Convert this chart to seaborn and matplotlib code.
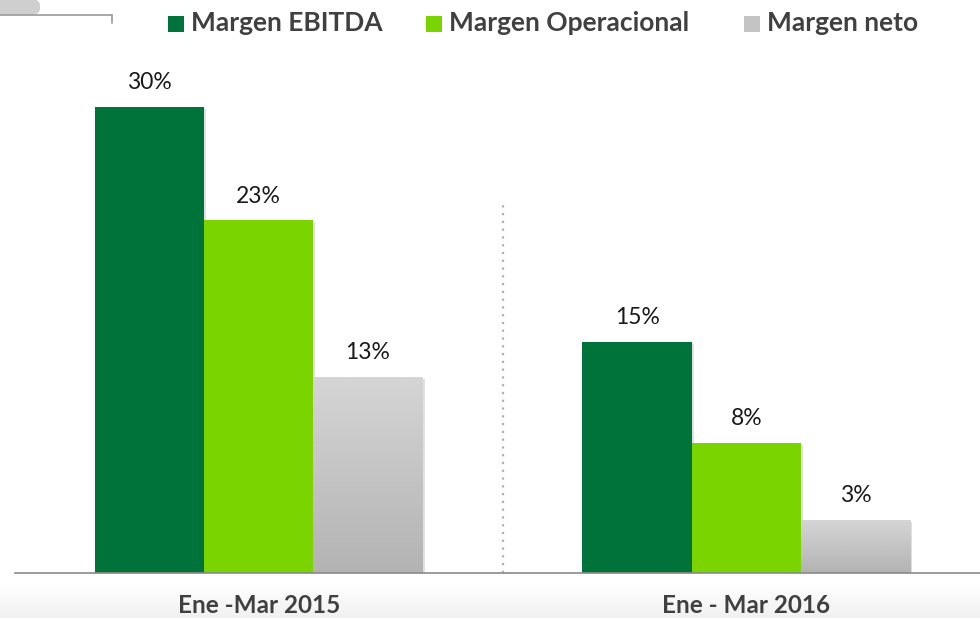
import numpy as np
import pandas as pd
import matplotlib
matplotlib.use("Agg")
import matplotlib.pyplot as plt
import seaborn as sns
from matplotlib.patches import Rectangle, FancyBboxPatch
from matplotlib.lines import Line2D
import matplotlib.patheffects as pe

periods = ["Ene -Mar 2015", "Ene - Mar 2016"]
series = ["Margen EBITDA", "Margen Operacional", "Margen neto"]
ebitda = [30.0, 14.9]
operacional = [22.7, 8.4]
neto = [12.6, 3.4]

colors = ["#00733A", "#7AD400", "#C4C4C4"]

rows = []
for name, vals in zip(series, [ebitda, operacional, neto]):
    for p, v in zip(periods, vals):
        rows.append({"period": p, "serie": name, "value": v})
df = pd.DataFrame(rows)

sns.set_theme(style="white")
plt.rcParams["font.family"] = ["Lato", "DejaVu Sans"]

W, H = 980, 618
fig = plt.figure(figsize=(W / 100, H / 100), dpi=100)
fig.patch.set_facecolor("white")

# subtle bottom background band
bg = fig.add_axes([0, 0, 1, 35 / H], zorder=-5)
grad = np.linspace(0, 1, 50).reshape(-1, 1)
bg.imshow(grad, aspect="auto", cmap=matplotlib.colors.LinearSegmentedColormap.from_list("g", ["#f1f1f1", "#ffffff"]),
          extent=[0, 1, 0, 1], origin="lower")
bg.axis("off")

base_px = 573
px_per = 15.53
ymax = 35
top_px = base_px - ymax * px_per
ax = fig.add_axes([15 / W, (H - base_px) / H, 975 / W, (base_px - top_px) / H])
ax.set_facecolor("none")

sns.barplot(data=df, x="period", y="value", hue="serie", order=periods, hue_order=series,
            palette=colors, width=0.672, saturation=1, errorbar=None, legend=False, ax=ax,
            linewidth=0)

ax.set_xlim(-0.5, 1.5)
ax.set_ylim(0, ymax)

shadow = [pe.SimplePatchShadow(offset=(1.5, -1.5), shadow_rgbFace="#000000", alpha=0.12), pe.Normal()]
bars = list(ax.patches)
gmap = matplotlib.colors.LinearSegmentedColormap.from_list("gr", ["#B3B3B3", "#D5D5D5"])
for b in bars:
    b.set_path_effects(shadow)
    b.set_zorder(2)
    if matplotlib.colors.to_hex(b.get_facecolor()).lower() == "#c4c4c4":
        x0, w, h = b.get_x(), b.get_width(), b.get_height()
        im = ax.imshow(np.linspace(0, 1, 100).reshape(-1, 1), cmap=gmap, aspect="auto",
                       extent=[x0, x0 + w, 0, h], origin="lower", zorder=2.5)
        im.set_clip_path(b)
ax.set_xlim(-0.5, 1.5)
ax.set_ylim(0, ymax)

for b in bars:
    h = b.get_height()
    ax.annotate(f"{round(h)}%", (b.get_x() + b.get_width() / 2, h), xytext=(0, 10),
                textcoords="offset points", ha="center", va="bottom",
                fontsize=16.5, color="#1a1a1a", zorder=5)

# divider
ax.axvline(0.5, ymin=0, ymax=(base_px - 205) / (base_px - top_px), color="#b0b0b0",
           linestyle=(0, (1, 2.5)), linewidth=1.6, zorder=1)

for s in ["left", "right", "top"]:
    ax.spines[s].set_visible(False)
ax.spines["bottom"].set_color("#8a8a8a")
ax.spines["bottom"].set_linewidth(1.2)
ax.set_yticks([])
ax.set_xticks([0, 1])
ax.set_xticklabels(periods, fontsize=17.5, fontweight="bold", color="#404040")
ax.tick_params(axis="x", which="major", length=0, pad=15)
ax.set_xticks([-0.5, 0.5, 1.5], minor=True)
ax.tick_params(axis="x", which="minor", length=5.5, color="#8a8a8a", width=1.2)
ax.set_xlabel("")
ax.set_ylabel("")

# legend (manual)
leg_items = [(168, "Margen EBITDA"), (426, "Margen Operacional"), (744, "Margen neto")]
for (xpx, name), c in zip(leg_items, colors):
    fig.add_artist(Rectangle((xpx / W, (H - 32) / H), 16 / W, 16 / H, transform=fig.transFigure,
                             facecolor=c, edgecolor="none"))
    fig.text((xpx + 23) / W, (H - 23) / H, name, fontsize=19, fontweight="bold", color="#404040",
             va="center", ha="left")

# top-left fragment
fig.add_artist(FancyBboxPatch((-10 / W, (H - 15) / H), 50 / W, 16 / H, boxstyle="round,pad=0,rounding_size=0.01",
                              transform=fig.transFigure, facecolor="#cfcfcf", edgecolor="none"))
fig.add_artist(Line2D([0, 112 / W], [(H - 15) / H] * 2, transform=fig.transFigure, color="#9a9a9a", lw=1.2))
fig.add_artist(Line2D([112 / W] * 2, [(H - 15) / H, (H - 23) / H], transform=fig.transFigure, color="#9a9a9a", lw=1.2))

fig.savefig("out.png", dpi=100)
